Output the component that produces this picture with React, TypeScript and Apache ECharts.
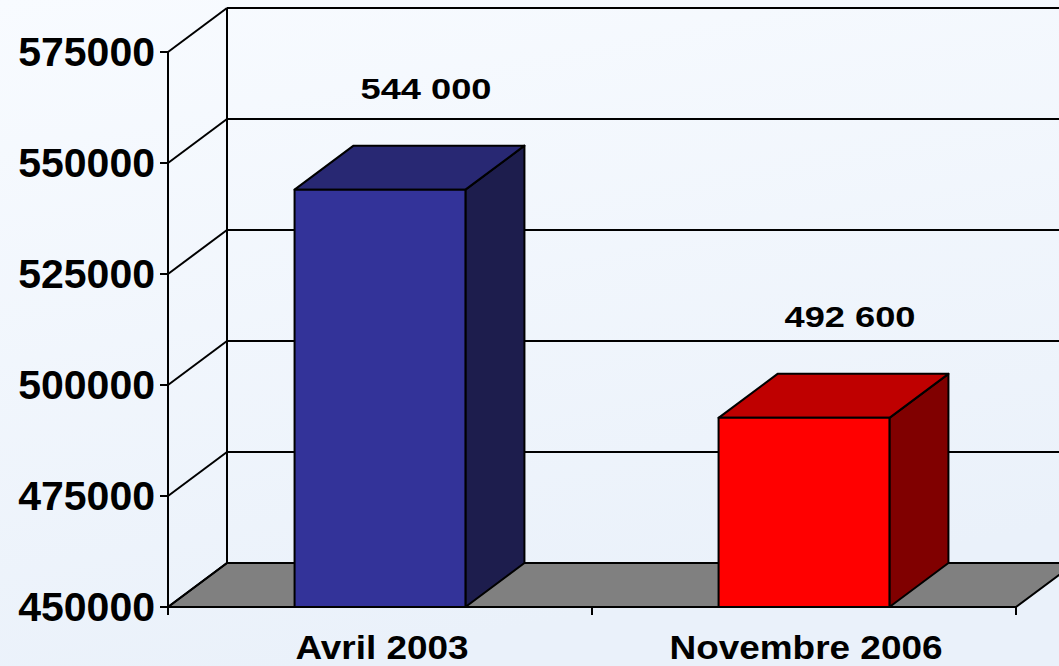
import React, { useEffect, useRef } from "react";
import * as echarts from "echarts";

const categories = ["Avril 2003", "Novembre 2006"];
const values = [544000, 492600];
const valueLabels = ["544 000", "492 600"];
const yMin = 450000;
const yMax = 575000;
const yStep = 25000;
const yTicks = [450000, 475000, 500000, 525000, 550000, 575000];

const DX = 59;
const DY = -44;
const FONT = '"Liberation Sans", Arial, sans-serif';
const palettes = [
  { front: "#333399", top: "#282873", side: "#1d1d4d" },
  { front: "#ff0000", top: "#bf0000", side: "#800000" },
];

export default function App() {
  const ref = useRef<HTMLDivElement>(null);
  useEffect(() => {
    const chart = echarts.init(ref.current!, null, { renderer: "svg" });

    const wallSeries = {
      type: "custom",
      z: 1,
      clip: false,
      silent: true,
      data: yTicks.map((v) => [0, v]),
      renderItem: (params: any, api: any) => {
        const cs = params.coordSys;
        const v = api.value(1);
        const py = api.coord([0, v])[1];
        const children: any[] = [];
        const line = { stroke: "#000", lineWidth: 2 };
        if (v === yMin) {
          children.push({
            type: "polygon",
            shape: {
              points: [
                [cs.x, py],
                [cs.x + cs.width, py],
                [cs.x + cs.width + DX, py + DY],
                [cs.x + DX, py + DY],
              ],
            },
            style: { fill: "#808080", stroke: "#000", lineWidth: 2 },
          });
          const topY = api.coord([0, yMax])[1];
          children.push({
            type: "line",
            shape: { x1: cs.x + DX, y1: py + DY, x2: cs.x + DX, y2: topY + DY },
            style: line,
          });
        }
        children.push({
          type: "line",
          shape: { x1: cs.x, y1: py, x2: cs.x + DX, y2: py + DY },
          style: line,
        });
        children.push({
          type: "line",
          shape: { x1: cs.x + DX, y1: py + DY, x2: cs.x + cs.width + DX, y2: py + DY },
          style: line,
        });
        return { type: "group", children };
      },
    };

    const barSeries = {
      type: "custom",
      z: 3,
      clip: false,
      data: values.map((v, i) => [i, v]),
      renderItem: (params: any, api: any) => {
        const i = api.value(0);
        const v = api.value(1);
        const top = api.coord([i, v]);
        const base = api.coord([i, yMin]);
        const band = api.size([1, 0])[0];
        const w = band * 0.403;
        const x0 = top[0] - w / 2;
        const x1 = x0 + w;
        const yT = top[1];
        const yB = base[1];
        const pal = palettes[params.dataIndex % palettes.length];
        const edge = { stroke: "#000", lineWidth: 2, lineJoin: "round" };
        return {
          type: "group",
          children: [
            {
              type: "polygon",
              shape: { points: [[x1, yT], [x1 + DX, yT + DY], [x1 + DX, yB + DY], [x1, yB]] },
              style: { fill: pal.side, ...edge },
            },
            {
              type: "polygon",
              shape: { points: [[x0, yT], [x0 + DX, yT + DY], [x1 + DX, yT + DY], [x1, yT]] },
              style: { fill: pal.top, ...edge },
            },
            {
              type: "rect",
              shape: { x: x0, y: yT, width: w, height: yB - yT },
              style: { fill: pal.front, ...edge },
            },
            {
              type: "text",
              x: top[0] + 46,
              y: yT + DY - 57,
              scaleX: 1.25,
              style: {
                text: valueLabels[params.dataIndex],
                fill: "#000",
                font: `bold 29px ${FONT}`,
                align: "center",
                verticalAlign: "middle",
              },
            },
          ],
        };
      },
    };

    const catSeries = {
      type: "custom",
      z: 3,
      clip: false,
      silent: true,
      data: categories.map((c, i) => [i, yMin]),
      renderItem: (params: any, api: any) => {
        const p = api.coord([api.value(0), yMin]);
        return {
          type: "text",
          x: p[0] + 2,
          y: p[1] + 40,
          scaleX: 1.12,
          style: {
            text: categories[params.dataIndex],
            fill: "#000",
            font: `bold 33px ${FONT}`,
            align: "center",
            verticalAlign: "middle",
          },
        };
      },
    };

    const option = {
      animation: false,
      backgroundColor: {
        type: "linear",
        x: 0,
        y: 0,
        x2: 0.3,
        y2: 1,
        colorStops: [
          { offset: 0, color: "#f8fbff" },
          { offset: 1, color: "#eaf1fa" },
        ],
      },
      grid: { left: 168, right: 43, top: 52, bottom: 59 },
      xAxis: {
        type: "category",
        data: categories,
        boundaryGap: true,
        axisLine: { show: true, lineStyle: { color: "#000", width: 2 } },
        axisTick: { show: true, length: 8, lineStyle: { color: "#000", width: 2 } },
        axisLabel: { show: false },
        splitLine: { show: false },
      },
      yAxis: {
        type: "value",
        min: yMin,
        max: yMax,
        interval: yStep,
        axisLine: { show: true, lineStyle: { color: "#000", width: 2 } },
        axisTick: { show: true, length: 8, lineStyle: { color: "#000", width: 2 } },
        axisLabel: {
          show: true,
          margin: 13,
          color: "#000",
          fontWeight: "bold",
          fontSize: 41,
          fontFamily: FONT,
          formatter: (v: number) => String(v),
        },
        splitLine: { show: false },
      },
      series: [wallSeries, barSeries, catSeries],
    };
    chart.setOption(option as any);
    return () => chart.dispose();
  }, []);
  return (
    <div
      ref={ref}
      style={{ position: "fixed", left: 0, top: 0, width: 1059, height: 666 }}
    />
  );
}
